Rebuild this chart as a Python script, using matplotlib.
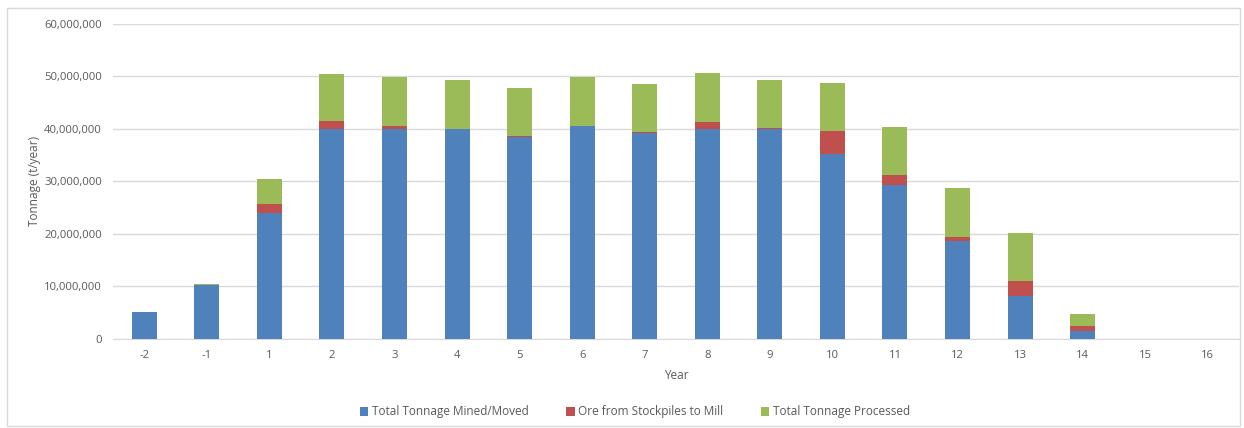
import matplotlib
matplotlib.use("Agg")
import matplotlib.pyplot as plt
from matplotlib.patches import Rectangle
from matplotlib.ticker import FuncFormatter
import numpy as np

# years on the x axis
years = ["-2", "-1", "1", "2", "3", "4", "5", "6", "7", "8", "9", "10",
         "11", "12", "13", "14", "15", "16"]

# tonnage per series (t/year)
mined = [5.2e6, 10.3e6, 23.9e6, 40.0e6, 40.0e6, 40.0e6, 38.4e6, 40.5e6, 39.2e6,
         40.0e6, 40.0e6, 35.2e6, 29.3e6, 18.6e6, 8.2e6, 1.5e6, 0, 0]
stockpile = [0, 0, 1.8e6, 1.5e6, 0.5e6, 0, 0.2e6, 0, 0.2e6,
             1.3e6, 0.2e6, 4.4e6, 2.0e6, 0.9e6, 2.9e6, 1.0e6, 0, 0]
processed = [0, 0.2e6, 4.8e6, 8.9e6, 9.3e6, 9.2e6, 9.2e6, 9.4e6, 9.1e6,
             9.3e6, 9.0e6, 9.1e6, 9.1e6, 9.3e6, 9.1e6, 2.3e6, 0, 0]

labels = ["Total Tonnage Mined/Moved", "Ore from Stockpiles to Mill",
          "Total Tonnage Processed"]
colors = ["#4f81bd", "#c0504d", "#9bbb59"]
txt = "#595959"
grid = "#d9d9d9"

plt.rcParams['font.family'] = ['Open Sans', 'DejaVu Sans']

fig = plt.figure(figsize=(12.44, 4.28), dpi=100)
ax = fig.add_axes([113 / 1244, 1 - 339 / 428, (1239 - 113) / 1244, (339 - 23.7) / 428])

x = np.arange(len(years))
w = 0.4
mined = np.array(mined)
stockpile = np.array(stockpile)
processed = np.array(processed)
ax.bar(x, mined, w, color=colors[0], label=labels[0], zorder=3)
ax.bar(x, stockpile, w, bottom=mined, color=colors[1], label=labels[1], zorder=3)
ax.bar(x, processed, w, bottom=mined + stockpile, color=colors[2], label=labels[2], zorder=3)

ax.set_xlim(-0.5, len(years) - 0.5)
ax.set_ylim(0, 60e6)
ax.set_yticks(np.arange(0, 60e6 + 1, 10e6))
ax.yaxis.set_major_formatter(FuncFormatter(lambda v, p: f"{int(v):,}"))
ax.set_xticks(x)
ax.set_xticklabels(years)
ax.grid(axis='y', color=grid, linewidth=1, zorder=0)
for s in ["top", "right", "left"]:
    ax.spines[s].set_visible(False)
ax.spines["bottom"].set_color(grid)
ax.tick_params(length=0, labelsize=8.1, colors=txt, pad=8)
ax.tick_params(axis='y', pad=8)

ax.set_ylabel("Tonnage (t/year)", fontsize=8.5, color=txt)
ax.yaxis.set_label_coords(-0.064, 0.5)
ax.set_xlabel("Year", fontsize=8.5, color=txt, labelpad=6)

leg = fig.legend(loc="center", bbox_to_anchor=(635 / 1244, 1 - 412 / 428), ncol=3,
                 frameon=False, fontsize=8.5, handlelength=0.7, handleheight=0.7,
                 columnspacing=3.2, handletextpad=0.3)
for t in leg.get_texts():
    t.set_color(txt)

# outer chart border
fig.patches.append(Rectangle((7 / 1244, 2 / 428), 1233 / 1244, 418 / 428,
                             transform=fig.transFigure, fill=False,
                             edgecolor=grid, linewidth=1))

fig.savefig("out.png", dpi=100)
